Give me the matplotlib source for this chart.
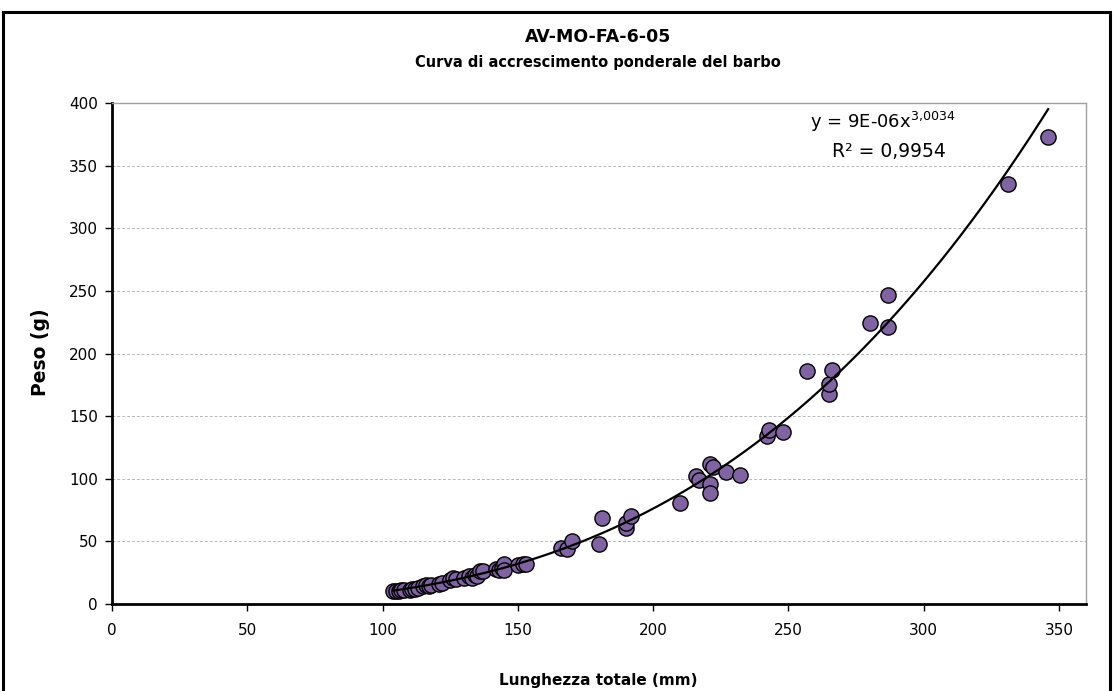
import numpy as np
import matplotlib
matplotlib.use("Agg")
import matplotlib.pyplot as plt
from matplotlib.patches import Rectangle

# ---- data ----
lunghezza = [104, 105, 106, 107, 108, 110, 111, 112, 113, 115, 116, 117, 118,
             121, 122, 125, 126, 127, 130, 132, 133, 134, 135, 136, 137,
             142, 143, 144, 145, 145, 150, 152, 153,
             166, 168, 170, 180, 181, 190, 190, 192, 210,
             216, 217, 221, 222, 221, 221, 227, 232,
             242, 243, 248, 257, 265, 265, 266, 280, 287, 287, 331, 346]
peso = [10, 10, 10, 11, 11, 11, 12, 12, 13, 14, 15, 14, 15,
        16, 17, 19, 21, 20, 21, 22, 21, 23, 22, 26, 26,
        28, 27, 29, 32, 27, 31, 32, 32,
        45, 44, 50, 48, 69, 61, 65, 70, 81,
        102, 99, 112, 109, 96, 89, 105, 103,
        134, 139, 137, 186, 168, 176, 187, 224, 221, 247, 335, 373]

trend_a = 9.35e-6
trend_b = 3.0034
eq_text = "y = 9E-06x$^{\\mathregular{3{,}0034}}$"
r2_text = "R² = 0,9954"

title = "AV-MO-FA-6-05"
subtitle = "Curva di accrescimento ponderale del barbo"
xlabel = "Lunghezza totale (mm)"
ylabel = "Peso (g)"
xticks = [0, 50, 100, 150, 200, 250, 300, 350]
yticks = [0, 50, 100, 150, 200, 250, 300, 350, 400]

W, H = 1113, 691
fig = plt.figure(figsize=(W / 100, H / 100), dpi=100)
fig.patch.set_facecolor("white")

# outer chart frame
fig.patches.append(Rectangle((3 / W, -0.05), (1110 - 3) / W, 1.05 - 12 / H,
                             transform=fig.transFigure, fill=False,
                             edgecolor="black", linewidth=2.2, zorder=0))

left, right, top, bottom = 112, 1086, 103, 604
ax = fig.add_axes([left / W, (H - bottom) / H, (right - left) / W, (bottom - top) / H])

ax.set_xlim(0, 360)
ax.set_ylim(0, 400)
ax.set_xticks(xticks)
ax.set_yticks(yticks)
ax.grid(axis="y", color="#b8b8b8", linestyle=(0, (3, 2)), linewidth=0.7)
ax.set_axisbelow(True)

for s in ["top", "right"]:
    ax.spines[s].set_color("#a0a0a0")
    ax.spines[s].set_linewidth(1.0)
for s in ["left", "bottom"]:
    ax.spines[s].set_color("black")
    ax.spines[s].set_linewidth(2.0)

ax.tick_params(axis="both", direction="out", length=5, width=1, labelsize=11,
               colors="black", pad=5)
ax.tick_params(axis="x", pad=9)

ax.scatter(lunghezza, peso, s=120, c="#8064A2", edgecolors="black",
           linewidths=1.0, zorder=3)

xs = np.linspace(min(lunghezza), max(lunghezza), 300)
ax.plot(xs, trend_a * xs ** trend_b, color="black", linewidth=1.6, zorder=4)

ax.text(285, 385, eq_text, fontsize=13, ha="center", va="center", zorder=5)
ax.text(287, 361, r2_text, fontsize=13.5, ha="center", va="center", zorder=5)

fig.text(598 / W, 1 - 37 / H, title, fontsize=12.5, fontweight="bold",
         ha="center", va="center")
fig.text(598 / W, 1 - 62 / H, subtitle, fontsize=10.5, fontweight="bold",
         ha="center", va="center")
fig.text(598 / W, 1 - 680 / H, xlabel, fontsize=11, fontweight="bold",
         ha="center", va="center")
fig.text(40 / W, 1 - 352 / H, ylabel, fontsize=13.5, fontweight="bold",
         ha="center", va="center", rotation=90)

fig.savefig("out.png", dpi=100)
